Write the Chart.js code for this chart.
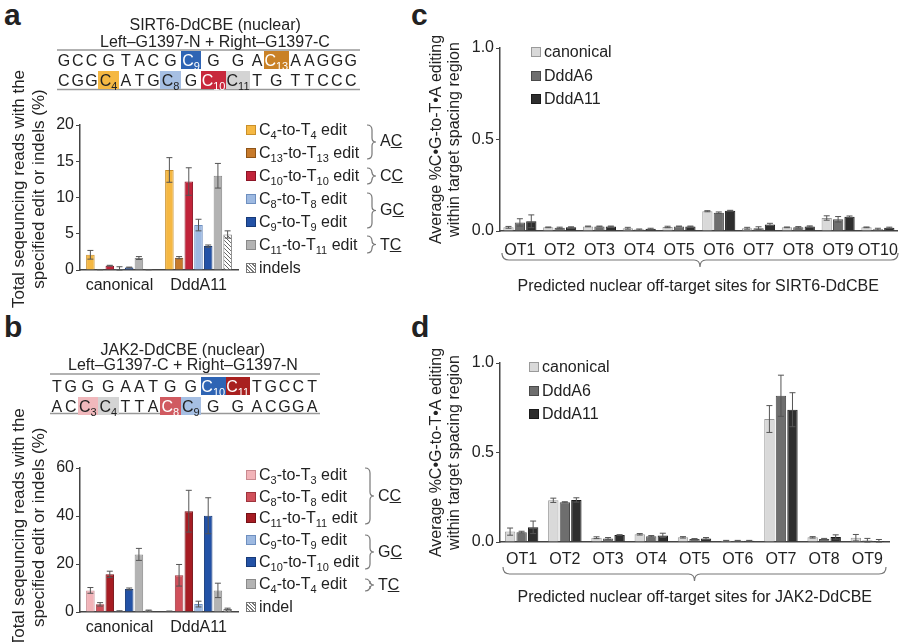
<!DOCTYPE html>
<html>
<head>
<meta charset="utf-8">
<script src="https://cdn.jsdelivr.net/npm/chart.js@4.4.1/dist/chart.umd.min.js"></script>
<style>
body{margin:0;width:900px;height:642px;position:relative;overflow:hidden;background:#fff;font-family:"Liberation Sans",Arial,sans-serif;color:#222}
canvas{position:absolute}
.t{position:absolute;white-space:nowrap;font-size:16px;line-height:18px}
.big{position:absolute;font-weight:bold;font-size:30px;line-height:30px}
.sw{display:inline-block;width:10px;height:10px;margin-right:3px;vertical-align:0px;box-sizing:border-box;border:1px solid #666}
sub{font-size:11px;vertical-align:-4px;line-height:0}
.cell{position:absolute;height:18px;line-height:19px;text-align:center;font-size:16px}
svg{position:absolute;left:0;top:0}
</style>
</head>
<body>
<div class="big" style="left:4px;top:0px">a</div>
<div class="big" style="left:4px;top:312px">b</div>
<div class="big" style="left:411px;top:0px">c</div>
<div class="big" style="left:411px;top:312px">d</div>

<canvas id="ca" width="240" height="275" style="left:0;top:60px;width:240px;height:275px"></canvas>
<canvas id="cb" width="240" height="252" style="left:0;top:400px;width:240px;height:252px"></canvas>
<canvas id="cc" width="490" height="240" style="left:410px;top:30px;width:490px;height:240px"></canvas>
<canvas id="cd" width="490" height="220" style="left:410px;top:345px;width:490px;height:220px"></canvas>
<svg id="ov" width="900" height="642"></svg>

<script>
// ---- data: panel a (SIRT6-DdCBE on-target) ----
const groupsA = ['canonical', 'DddA11'];
const aC4 = [2.1, 13.8],   aC4Err = [0.6, 1.7];
const aC13 = [0.05, 1.7],  aC13Err = [0.02, 0.15];
const aC10 = [0.6, 12.2],  aC10Err = [0.05, 1.9];
const aC8 = [0.15, 6.2],   aC8Err = [0.3, 0.8];
const aC9 = [0.35, 3.3],   aC9Err = [0.05, 0.15];
const aC11 = [1.65, 13.0], aC11Err = [0.2, 1.7];
const aIndel = [0.05, 4.9], aIndelErr = [0.02, 0.5];

// ---- data: panel b (JAK2-DdCBE on-target) ----
const groupsB = ['canonical', 'DddA11'];
const bC3 = [9.0, 0.3],    bC3Err = [1.2, 0.1];
const bC8 = [3.2, 15.3],   bC8Err = [0.7, 4.5];
const bC11 = [15.7, 42.0], bC11Err = [1.3, 8.7];
const bC9 = [0.4, 3.3],    bC9Err = [0.1, 1.2];
const bC10 = [9.6, 40.1],  bC10Err = [0.4, 7.5];
const bC4 = [24.0, 9.0],   bC4Err = [2.5, 3.0];
const bIndel = [0.6, 1.2], bIndelErr = [0.2, 0.4];

// ---- data: panel c (SIRT6 off-targets) ----
const sitesC = ['OT1','OT2','OT3','OT4','OT5','OT6','OT7','OT8','OT9','OT10'];
const cCanon = [0.02,0.02,0.025,0.015,0.022,0.108,0.015,0.02,0.071,0.02];
const cD6    = [0.047,0.018,0.025,0.008,0.025,0.1,0.015,0.02,0.064,0.01];
const cD11   = [0.053,0.02,0.025,0.012,0.025,0.111,0.036,0.025,0.078,0.018];
const cCanonErr = [0.005,0.002,0.002,0.005,0.004,0.003,0.005,0.002,0.012,0.002];
const cD6Err    = [0.02,0.003,0.002,0.003,0.002,0.004,0.008,0.004,0.015,0.005];
const cD11Err   = [0.035,0.003,0.002,0.003,0.002,0.002,0.006,0.003,0.004,0.003];

// ---- data: panel d (JAK2 off-targets) ----
const sitesD = ['OT1','OT2','OT3','OT4','OT5','OT6','OT7','OT8','OT9'];
const dCanon = [0.058,0.233,0.024,0.043,0.026,0.007,0.687,0.026,0.024];
const dD6    = [0.055,0.222,0.02,0.032,0.017,0.007,0.817,0.017,0.008];
const dD11   = [0.082,0.235,0.039,0.037,0.02,0.007,0.739,0.028,0.006];
const dCanonErr = [0.02,0.012,0.005,0.004,0.004,0.002,0.075,0.004,0.018];
const dD6Err    = [0.005,0.003,0.005,0.004,0.002,0.002,0.115,0.003,0.012];
const dD11Err   = [0.035,0.012,0.002,0.012,0.005,0.002,0.095,0.012,0.008];

// sequences (columns top / bottom strand)
const seqATop = ['G','C','C','G','T','A','C','G','C9','G','G','A','C13','A','A','G','G','G'];
const seqABot = ['C','G','G','C4','A','T','G','C8','G','C10','C11','T','G','T','T','C','C','C'];
const seqBTop = ['T','G','G','G','A','A','T','G','G','C10','C11','T','G','C','C','T'];
const seqBBot = ['A','C','C3','C4','T','T','A','C8','C9','G','G','A','C','G','G','A'];

Chart.defaults.font.family = '"Liberation Sans", Arial, sans-serif';
Chart.defaults.color = '#222';

function hatch() {
  const c = document.createElement('canvas'); c.width = 4; c.height = 4;
  const g = c.getContext('2d');
  g.fillStyle = '#fff'; g.fillRect(0, 0, 4, 4);
  g.strokeStyle = '#666'; g.lineWidth = 1;
  g.beginPath(); g.moveTo(0, 0); g.lineTo(4, 4); g.moveTo(-1, 3); g.lineTo(1, 5); g.moveTo(3, -1); g.lineTo(5, 1); g.stroke();
  return g.createPattern(c, 'repeat');
}

const errPlugin = {
  id: 'errbars',
  afterDatasetsDraw(chart) {
    const ctx = chart.ctx, y = chart.scales.y;
    chart.data.datasets.forEach((ds, i) => {
      if (!ds.errors) return;
      chart.getDatasetMeta(i).data.forEach((bar, j) => {
        const v = ds.data[j], e = ds.errors[j];
        const yt = y.getPixelForValue(v + e), yb = y.getPixelForValue(Math.max(0, v - e));
        ctx.save();
        ctx.strokeStyle = '#555'; ctx.lineWidth = 1;
        ctx.beginPath();
        ctx.moveTo(bar.x, yt); ctx.lineTo(bar.x, yb);
        ctx.moveTo(bar.x - 3, yt); ctx.lineTo(bar.x + 3, yt);
        ctx.moveTo(bar.x - 3, yb); ctx.lineTo(bar.x + 3, yb);
        ctx.stroke();
        ctx.restore();
      });
    });
  }
};

function ds(data, errors, fill, border) {
  return { data: data, errors: errors, backgroundColor: fill, borderColor: border, borderWidth: 1 };
}

function makeChart(id, labels, datasets, o) {
  return new Chart(document.getElementById(id), {
    type: 'bar',
    data: { labels: labels, datasets: datasets },
    options: {
      responsive: false, animation: false,
      layout: { padding: { top: o.top, right: o.right, left: 0, bottom: 0 } },
      datasets: { bar: { categoryPercentage: o.cat, barPercentage: o.bar } },
      plugins: { legend: { display: false }, tooltip: { enabled: false } },
      scales: {
        x: {
          grid: { display: false },
          border: { color: '#444', width: 1.5 },
          ticks: { font: { size: 16 }, color: '#222', padding: o.xpad, maxRotation: 0, autoSkip: false },
          afterFit(s) { s.height = o.xh; }
        },
        y: {
          min: 0, max: o.max,
          ticks: { stepSize: o.step, font: { size: 16 }, color: '#222', padding: 2,
                   callback: v => o.fmt ? v.toFixed(1) : v },
          grid: { drawOnChartArea: false, tickLength: 4, color: '#444' },
          border: { color: '#444', width: 1.5 },
          title: { display: true, text: o.title, font: { size: o.tsize, lineHeight: 1.15 }, color: '#222',
                   padding: { top: o.tpad, bottom: 0 } },
          afterFit(s) { s.width = o.yw; }
        }
      }
    },
    plugins: [errPlugin]
  });
}

const hp = hatch();
const seqTitle = ['Total seqeuncing reads with the', 'specified edit or indels (%)'];
// leading en-spaces nudge the rotated title upward along the axis
const lift = (lines, n) => lines.map(s => '\u2002'.repeat(n) + s);

makeChart('ca', groupsA, [
  ds(aC4, aC4Err, '#F5B843', '#C98F2A'),
  ds(aC13, aC13Err, '#C77A2B', '#8E5418'),
  ds(aC10, aC10Err, '#C1243A', '#8C1526'),
  ds(aC8, aC8Err, '#9DB9E1', '#6E8FBF'),
  ds(aC9, aC9Err, '#2352A6', '#173A78'),
  ds(aC11, aC11Err, '#B3B3B3', '#8A8A8A'),
  ds(aIndel, aIndelErr, hp, '#777')
], { top: 65, right: 2, xh: 65, xpad: -2, max: 20, step: 5, yw: 80, title: lift(seqTitle, 2), tsize: 17, tpad: 10, cat: 0.86, bar: 0.88 });

makeChart('cb', groupsB, [
  ds(bC3, bC3Err, '#F2B3B8', '#C98A90'),
  ds(bC8, bC8Err, '#D0505B', '#9E343D'),
  ds(bC11, bC11Err, '#A61C23', '#741116'),
  ds(bC9, bC9Err, '#9DB9E1', '#6E8FBF'),
  ds(bC10, bC10Err, '#2352A6', '#173A78'),
  ds(bC4, bC4Err, '#B3B3B3', '#8A8A8A'),
  ds(bIndel, bIndelErr, hp, '#777')
], { top: 68, right: 2, xh: 40, xpad: -2, max: 60, step: 20, yw: 80, title: lift(seqTitle, 3), tsize: 17, tpad: 10, cat: 0.86, bar: 0.88 });

const offTitle = ['Average %C\u2022G-to-T\u2022A editing', 'within target spacing region'];
makeChart('cc', sitesC, [
  ds(cCanon, cCanonErr, '#D9D9D9', '#9A9A9A'),
  ds(cD6, cD6Err, '#6E6E6E', '#4A4A4A'),
  ds(cD11, cD11Err, '#2E2E2E', '#1A1A1A')
], { top: 18, right: 2, xh: 39, xpad: 2, max: 1, step: 0.5, yw: 90, title: offTitle, tsize: 16, tpad: 17, cat: 0.86, bar: 0.9, fmt: true });

makeChart('cd', sitesD, [
  ds(dCanon, dCanonErr, '#D9D9D9', '#9A9A9A'),
  ds(dD6, dD6Err, '#6E6E6E', '#4A4A4A'),
  ds(dD11, dD11Err, '#2E2E2E', '#1A1A1A')
], { top: 18, right: 11, xh: 23, xpad: 0, max: 1, step: 0.5, yw: 90, title: offTitle, tsize: 16, tpad: 17, cat: 0.8, bar: 0.9, fmt: true });

// ---- text, legends, sequences ----
function text(html, x, y, extra) {
  const d = document.createElement('div');
  d.className = 't'; d.innerHTML = html;
  d.style.left = x + 'px'; d.style.top = (y - 9) + 'px';
  if (extra) Object.assign(d.style, extra);
  document.body.appendChild(d);
  return d;
}
function centered(html, cx, y) {
  const d = text(html, 0, y);
  d.style.left = (cx - d.offsetWidth / 2) + 'px';
}
const NS = 'http://www.w3.org/2000/svg';
const ov = document.getElementById('ov');
function path(d, color, w) {
  const p = document.createElementNS(NS, 'path');
  p.setAttribute('d', d); p.setAttribute('fill', 'none');
  p.setAttribute('stroke', color || '#777'); p.setAttribute('stroke-width', w || 1.2);
  ov.appendChild(p);
}
function vbrace(x, y1, y2) {
  const m = (y1 + y2) / 2;
  path(`M${x},${y1} Q${x + 5},${y1} ${x + 5},${y1 + 5} L${x + 5},${m - 4} Q${x + 5},${m} ${x + 9},${m} Q${x + 5},${m} ${x + 5},${m + 4} L${x + 5},${y2 - 5} Q${x + 5},${y2} ${x},${y2}`);
}
function hbrace(x1, x2, y) {
  const m = (x1 + x2) / 2;
  path(`M${x1},${y} Q${x1},${y + 7} ${x1 + 7},${y + 7} L${m - 6},${y + 7} Q${m},${y + 7} ${m},${y + 14} Q${m},${y + 7} ${m + 6},${y + 7} L${x2 - 7},${y + 7} Q${x2},${y + 7} ${x2},${y}`);
}
function legendItem(x, y, fill, border, html) {
  text(`<span class="sw" style="background:${fill};border-color:${border}"></span>${html}`, x, y);
}
const hatchCss = 'repeating-linear-gradient(45deg,#fff 0 1.5px,#777 1.5px 2.5px)';
function edit(n) { return `C<sub>${n}</sub>-to-T<sub>${n}</sub> edit`; }

// legend a
legendItem(246, 130, '#F5B843', '#C98F2A', edit(4));
legendItem(246, 153, '#C77A2B', '#8E5418', edit(13));
legendItem(246, 176, '#C1243A', '#8C1526', edit(10));
legendItem(246, 199, '#9DB9E1', '#6E8FBF', edit(8));
legendItem(246, 222, '#2352A6', '#173A78', edit(9));
legendItem(246, 245, '#B3B3B3', '#8A8A8A', edit(11));
legendItem(246, 268, hatchCss, '#777', 'indels');
vbrace(367, 125, 159); text('A<u>C</u>', 380, 141);
vbrace(367, 168, 184); text('C<u>C</u>', 380, 176);
vbrace(367, 193, 228); text('G<u>C</u>', 380, 210);
vbrace(367, 236, 253); text('T<u>C</u>', 380, 245);

// legend b
legendItem(246, 475, '#F2B3B8', '#C98A90', edit(3));
legendItem(246, 497, '#D0505B', '#9E343D', edit(8));
legendItem(246, 518, '#A61C23', '#741116', edit(11));
legendItem(246, 540, '#9DB9E1', '#6E8FBF', edit(9));
legendItem(246, 562, '#2352A6', '#173A78', edit(10));
legendItem(246, 584, '#B3B3B3', '#8A8A8A', edit(4));
legendItem(246, 607, hatchCss, '#777', 'indel');
vbrace(365, 468, 524); text('C<u>C</u>', 378, 496);
vbrace(365, 535, 569); text('G<u>C</u>', 378, 552);
vbrace(365, 579, 591); text('T<u>C</u>', 378, 585);

// legends c, d
[[531, 52], [529, 367]].forEach(([x, y]) => {
  legendItem(x, y, '#D9D9D9', '#9A9A9A', 'canonical');
  legendItem(x, y + 24, '#6E6E6E', '#4A4A4A', 'DddA6');
  legendItem(x, y + 47, '#2E2E2E', '#1A1A1A', 'DddA11');
});
hbrace(502, 898, 253); centered('Predicted nuclear off-target sites for SIRT6-DdCBE', 698, 286);
hbrace(503, 886, 567); centered('Predicted nuclear off-target sites for JAK2-DdCBE', 695, 597);

// sequence diagrams
const boxA = { C4: ['#F5B843', '#222'], C13: ['#C98126', '#fff'], C9: ['#2E64B4', '#fff'], C8: ['#A6BFE3', '#222'], C10: ['#C8283C', '#fff'], C11: ['#D4D4D4', '#222'] };
const boxB = { C10: ['#2E64B4', '#fff'], C11: ['#A8201F', '#fff'], C3: ['#F0B8BC', '#222'], C4: ['#D4D4D4', '#222'], C8: ['#D05A60', '#fff'], C9: ['#A6BFE3', '#222'] };
function seq(top, bot, boxes, x0, y1, y2, plain) {
  let x = x0;
  top.forEach((t, i) => {
    const b = bot[i];
    const num = (t + b).replace(/[A-Z]/g, '');
    const w = num.length === 0 ? plain : (num.length === 1 ? 20.5 : 24.5);
    [[t, y1], [b, y2]].forEach(([tok, y]) => {
      const d = document.createElement('div');
      d.className = 'cell';
      d.style.left = x + 'px'; d.style.top = y + 'px'; d.style.width = w + 'px';
      if (tok.length > 1) {
        const c = boxes[tok];
        d.style.background = c[0]; d.style.color = c[1];
        d.innerHTML = tok[0] + '<sub>' + tok.slice(1) + '</sub>';
      } else d.textContent = tok;
      document.body.appendChild(d);
    });
    x += w;
  });
}
seq(seqATop, seqABot, boxA, 57, 51, 71, 13.8);
seq(seqBTop, seqBBot, boxB, 50, 377, 397, 13.8);
path('M57,50 L360,50 M57,89.5 L360,89.5', '#999', 1.5);
path('M50,374 L320,374 M50,413.5 L320,413.5', '#999', 1.5);
centered('SIRT6-DdCBE (nuclear)', 215, 25);
centered('Left\u2013G1397-N + Right\u2013G1397-C', 215, 42);
centered('JAK2-DdCBE (nuclear)', 183, 350);
centered('Left\u2013G1397-C + Right\u2013G1397-N', 183, 365);
</script>
</body>
</html>
